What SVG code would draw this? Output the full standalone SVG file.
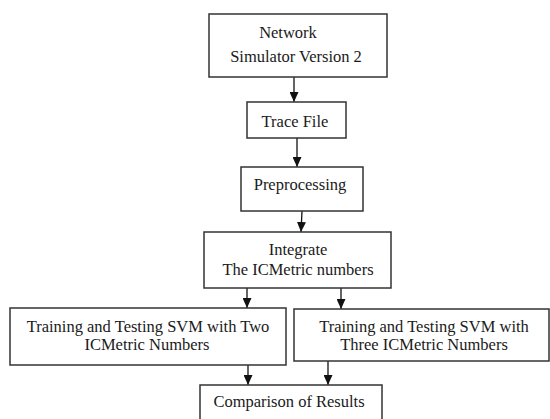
<svg xmlns="http://www.w3.org/2000/svg" width="550" height="419" viewBox="0 0 550 419">
  <style>
    .box { fill: #ffffff; stroke: #333333; stroke-width: 1.5; }
    .lbl { font-family: "Liberation Serif", "Times New Roman", serif; font-size: 16.5px; fill: #1a1a1a; text-anchor: middle; }
    .edge { stroke: #111111; stroke-width: 1.3; fill: none; marker-end: url(#arrow); }
  </style>
  <defs>
    <!-- filled triangular head, tip at the end of the line -->
    <marker id="arrow" markerUnits="userSpaceOnUse" markerWidth="10" markerHeight="9" viewBox="0 0 10 9" refX="10" refY="4.5" orient="auto">
      <path d="M0,0 L10,4.5 L0,9 Z" fill="#111111"/>
    </marker>
  </defs>
  <rect width="550" height="419" fill="#ffffff"/>

  <g id="connectors">
    <line class="edge" x1="294" y1="77" x2="294" y2="102"/>
    <line class="edge" x1="297" y1="138" x2="297" y2="167"/>
    <line class="edge" x1="302" y1="211" x2="301" y2="232"/>
    <line class="edge" x1="247" y1="288" x2="247" y2="308"/>
    <line class="edge" x1="341" y1="288" x2="341" y2="309"/>
    <line class="edge" x1="248" y1="365" x2="248" y2="385"/>
    <line class="edge" x1="328" y1="361" x2="328" y2="385"/>
  </g>

  <g id="ns2">
    <rect class="box" x="209" y="14" width="178" height="63"/>
    <text class="lbl" x="288" y="38">Network</text>
    <text class="lbl" x="296" y="62">Simulator Version 2</text>
  </g>

  <g id="trace-file">
    <rect class="box" x="247" y="102" width="99" height="36"/>
    <text class="lbl" x="295" y="127">Trace File</text>
  </g>

  <g id="preprocessing">
    <rect class="box" x="241" y="167" width="122" height="44"/>
    <text class="lbl" x="300" y="190">Preprocessing</text>
  </g>

  <g id="integrate">
    <rect class="box" x="204" y="232" width="187" height="56"/>
    <text class="lbl" x="298" y="255">Integrate</text>
    <text class="lbl" x="298" y="275">The ICMetric numbers</text>
  </g>

  <g id="svm-two">
    <rect class="box" x="10" y="308" width="276" height="57"/>
    <text class="lbl" x="148" y="332">Training and Testing SVM with Two</text>
    <text class="lbl" x="147" y="350">ICMetric Numbers</text>
  </g>

  <g id="svm-three">
    <rect class="box" x="294" y="309" width="255" height="52"/>
    <text class="lbl" x="424" y="332">Training and Testing SVM with</text>
    <text class="lbl" x="424" y="350">Three ICMetric Numbers</text>
  </g>

  <g id="comparison">
    <rect class="box" x="200" y="385" width="182" height="40"/>
    <text class="lbl" x="289" y="407">Comparison of Results</text>
  </g>
</svg>
